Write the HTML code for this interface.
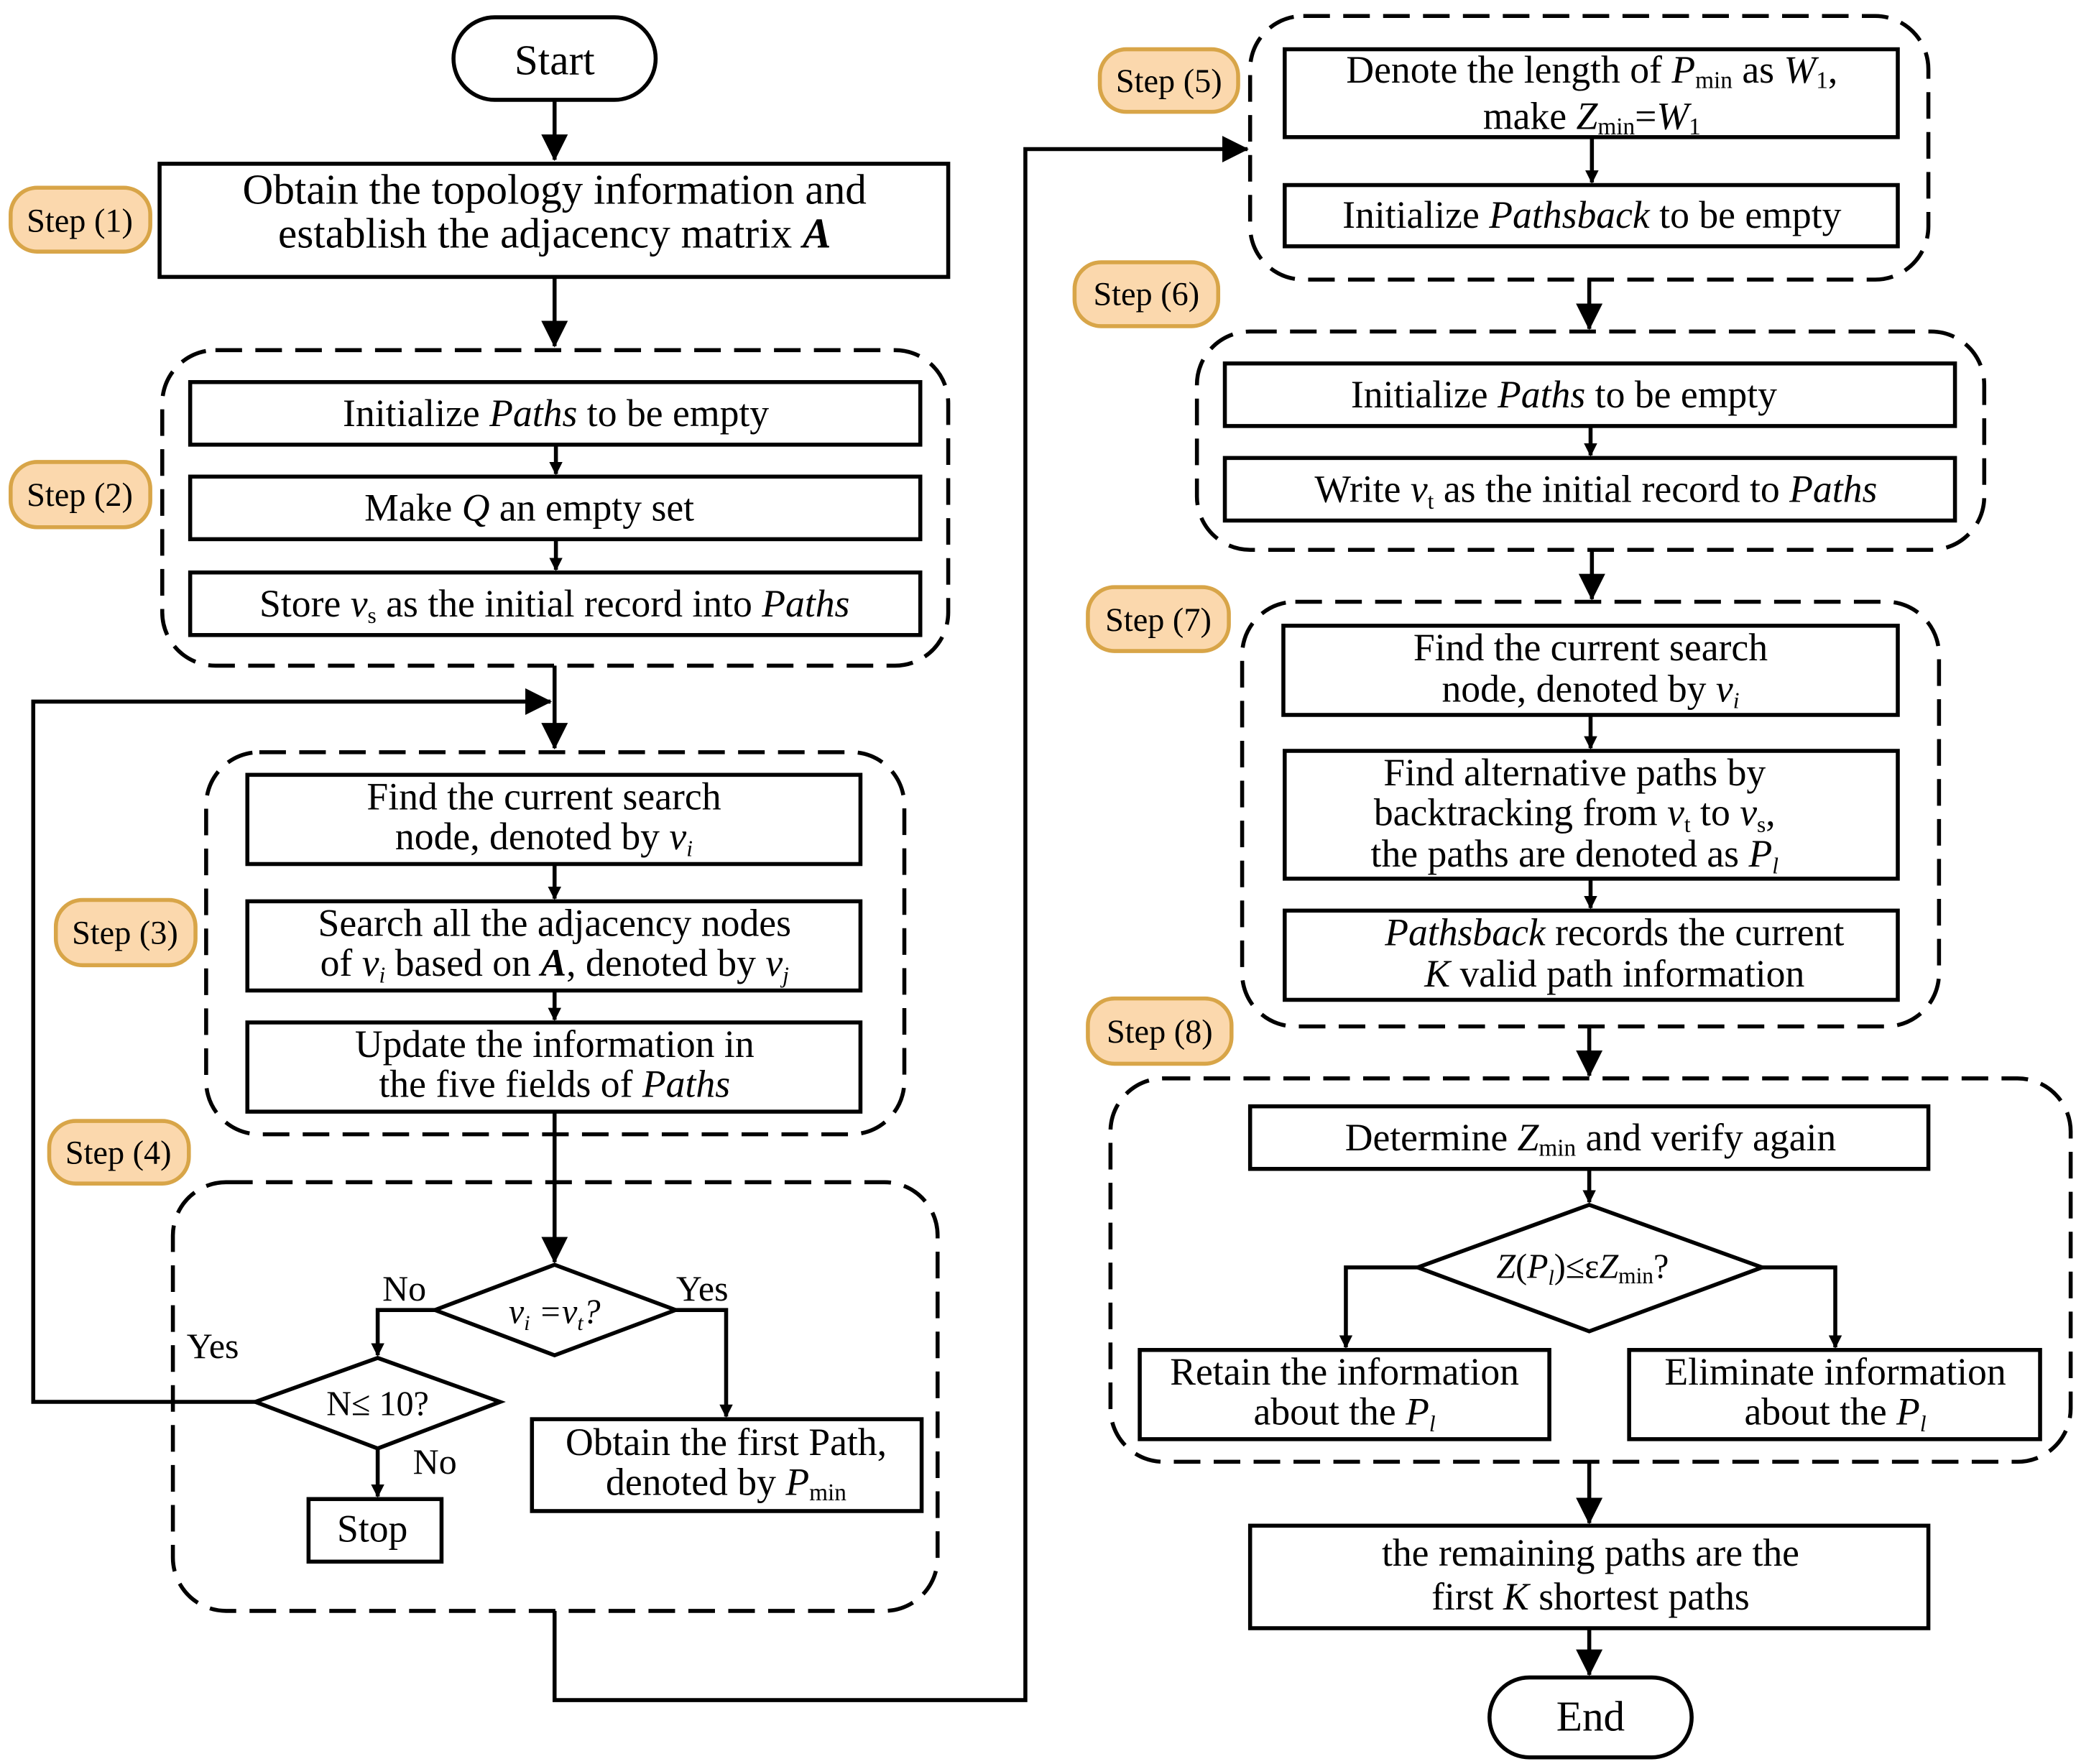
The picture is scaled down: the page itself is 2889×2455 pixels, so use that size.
<!DOCTYPE html>
<html><head><meta charset="utf-8"><style>
html,body{margin:0;padding:0;background:#fff}
svg{display:block}
text{font-family:"Liberation Serif",serif;fill:#000}
.i{font-style:italic}
</style></head><body>
<svg width="2889" height="2455" viewBox="0 0 1561 1325" preserveAspectRatio="none" xmlns="http://www.w3.org/2000/svg">
<defs>
<marker id="a" markerWidth="10" markerHeight="10" refX="9" refY="5" orient="auto" markerUnits="userSpaceOnUse" viewBox="0 0 10 10">
<path d="M0,0 L10,5 L0,10 z" fill="#000"/></marker>
<marker id="b" markerWidth="20" markerHeight="20" refX="19" refY="10" orient="auto" markerUnits="userSpaceOnUse" viewBox="0 0 20 20">
<path d="M0,0 L20,10 L0,20 z" fill="#000"/></marker>
</defs>
<g fill="none" stroke="#000" stroke-width="3">
<!-- dashed groups -->
<g stroke-dasharray="20 10">
<rect x="122" y="263" width="591" height="237" rx="40"/>
<rect x="155" y="565" width="525" height="287" rx="40"/>
<rect x="130" y="888" width="575" height="322" rx="40"/>
<rect x="940" y="12" width="510" height="198" rx="40"/>
<rect x="900" y="249" width="592" height="164" rx="40"/>
<rect x="934" y="452" width="524" height="319" rx="40"/>
<rect x="835" y="810" width="722" height="288" rx="40"/>
</g>
<!-- pills -->
<rect x="341" y="13" width="152" height="62" rx="31"/>
<rect x="1120" y="1260" width="152" height="60" rx="30"/>
<!-- boxes -->
<rect x="120" y="123" width="593" height="85"/>
<rect x="143" y="287" width="549" height="47"/>
<rect x="143" y="358" width="549" height="47"/>
<rect x="143" y="430" width="549" height="47"/>
<rect x="186" y="582" width="461" height="67"/>
<rect x="186" y="677" width="461" height="67"/>
<rect x="186" y="768" width="461" height="67"/>
<rect x="232" y="1126" width="100" height="47"/>
<rect x="400" y="1066" width="293" height="69"/>
<rect x="966" y="37" width="461" height="66"/>
<rect x="966" y="139" width="461" height="46"/>
<rect x="921" y="273" width="549" height="47"/>
<rect x="921" y="344" width="549" height="47"/>
<rect x="965" y="470" width="462" height="67"/>
<rect x="966" y="564" width="461" height="96"/>
<rect x="966" y="684" width="461" height="67"/>
<rect x="940" y="831" width="510" height="47"/>
<rect x="857" y="1014" width="308" height="67"/>
<rect x="1225" y="1014" width="309" height="67"/>
<rect x="940" y="1146" width="510" height="77"/>
<!-- diamonds -->
<path d="M327,984 L417,950 L508,984 L417,1018 Z"/>
<path d="M192,1053 L284,1020 L376,1053 L284,1088 Z"/>
<path d="M1066,952 L1195,905 L1325,952 L1195,1000 Z"/>
</g>
<!-- badges -->
<g fill="#fbd8ad" stroke="#d8a548" stroke-width="3">
<rect x="8" y="141" width="105" height="48" rx="20"/>
<rect x="8" y="347" width="105" height="49" rx="20"/>
<rect x="42" y="676" width="105" height="49" rx="20"/>
<rect x="37" y="842" width="105" height="47" rx="20"/>
<rect x="827" y="37" width="104" height="47" rx="20"/>
<rect x="808" y="197" width="108" height="48" rx="20"/>
<rect x="818" y="441" width="106" height="48" rx="20"/>
<rect x="818" y="750" width="108" height="49" rx="20"/>
</g>
<!-- connectors -->
<g fill="none" stroke="#000" stroke-width="3">
<path d="M417,75 V120" marker-end="url(#b)"/>
<path d="M417,208 V260" marker-end="url(#b)"/>
<path d="M418,334 V356" marker-end="url(#a)"/>
<path d="M418,405 V428" marker-end="url(#a)"/>
<path d="M417,500 V562" marker-end="url(#b)"/>
<path d="M192,1053 H25 V527 H414" marker-end="url(#b)"/>
<path d="M417,649 V675" marker-end="url(#a)"/>
<path d="M417,744 V766" marker-end="url(#a)"/>
<path d="M417,835 V948" marker-end="url(#b)"/>
<path d="M327,984 H284 V1018" marker-end="url(#a)"/>
<path d="M508,984 H546 V1064" marker-end="url(#a)"/>
<path d="M284,1088 V1124" marker-end="url(#a)"/>
<path d="M417,1210 V1277 H771 V112 H938" marker-end="url(#b)"/>
<path d="M1197,103 V137" marker-end="url(#a)"/>
<path d="M1195,210 V247" marker-end="url(#b)"/>
<path d="M1196,320 V342" marker-end="url(#a)"/>
<path d="M1197,413 V450" marker-end="url(#b)"/>
<path d="M1196,537 V562" marker-end="url(#a)"/>
<path d="M1196,660 V682" marker-end="url(#a)"/>
<path d="M1195,771 V808" marker-end="url(#b)"/>
<path d="M1195,878 V903" marker-end="url(#a)"/>
<path d="M1066,952 H1012 V1012" marker-end="url(#a)"/>
<path d="M1325,952 H1380 V1012" marker-end="url(#a)"/>
<path d="M1195,1098 V1144" marker-end="url(#b)"/>
<path d="M1195,1223 V1258" marker-end="url(#b)"/>
</g>
<!-- text -->
<g text-anchor="middle" font-size="29">
<text x="417" y="56" font-size="32">Start</text>
<text x="1196" y="1300" font-size="32">End</text>
<text x="417" y="153" font-size="32">Obtain the topology information and</text>
<text x="417" y="186" font-size="32">establish the adjacency matrix <tspan class="i" font-weight="bold">A</tspan></text>
<text x="418" y="320">Initialize <tspan class="i">Paths</tspan> to be empty</text>
<text x="398" y="391">Make <tspan class="i">Q</tspan> an empty set</text>
<text x="417" y="463">Store <tspan class="i">v</tspan><tspan font-size="17" dy="5">s</tspan><tspan dy="-5"> as the initial record into </tspan><tspan class="i">Paths</tspan></text>
<text x="409" y="608">Find  the current search</text>
<text x="409" y="638">node, denoted by <tspan class="i">v<tspan font-size="17" dy="5">i</tspan></tspan></text>
<text x="417" y="703">Search all the adjacency nodes</text>
<text x="417" y="733">of <tspan class="i">v<tspan font-size="17" dy="5">i</tspan></tspan><tspan dy="-5"> based on </tspan><tspan class="i" font-weight="bold">A</tspan>, denoted by <tspan class="i">v<tspan font-size="17" dy="5">j</tspan></tspan></text>
<text x="417" y="794">Update the information in</text>
<text x="417" y="824">the five fields of <tspan class="i">Paths</tspan></text>
<text x="417" y="994" font-size="26" class="i">v<tspan font-size="16" dy="5">i</tspan><tspan dy="-5"> =v</tspan><tspan font-size="16" dy="5">t</tspan><tspan dy="-5">?</tspan></text>
<text x="304" y="977" font-size="27">No</text>
<text x="528" y="977" font-size="27">Yes</text>
<text x="160" y="1020" font-size="27">Yes</text>
<text x="327" y="1107" font-size="27">No</text>
<text x="284" y="1063" font-size="26">N≤ 10?</text>
<text x="280" y="1158">Stop</text>
<text x="546" y="1093">Obtain the first Path,</text>
<text x="546" y="1123">denoted by <tspan class="i">P</tspan><tspan font-size="18" dy="4">min</tspan></text>
<text x="1197" y="62">Denote the length of <tspan class="i">P</tspan><tspan font-size="18" dy="4">min</tspan><tspan dy="-4"> as </tspan><tspan class="i">W</tspan><tspan font-size="18" dy="4">1</tspan><tspan dy="-4">,</tspan></text>
<text x="1197" y="97">make <tspan class="i">Z</tspan><tspan font-size="18" dy="4">min</tspan><tspan dy="-4">=</tspan><tspan class="i">W</tspan><tspan font-size="18" dy="4">1</tspan></text>
<text x="1197" y="171">Initialize <tspan class="i">Pathsback</tspan> to be empty</text>
<text x="1176" y="306">Initialize <tspan class="i">Paths</tspan> to be empty</text>
<text x="1200" y="377">Write <tspan class="i">v</tspan><tspan font-size="17" dy="5">t</tspan><tspan dy="-5"> as the initial record to </tspan><tspan class="i">Paths</tspan></text>
<text x="1196" y="496">Find the current search</text>
<text x="1196" y="527">node, denoted by <tspan class="i">v<tspan font-size="17" dy="5">i</tspan></tspan></text>
<text x="1184" y="590">Find alternative paths by</text>
<text x="1184" y="620">backtracking from <tspan class="i">v</tspan><tspan font-size="17" dy="5">t</tspan><tspan dy="-5"> to </tspan><tspan class="i">v</tspan><tspan font-size="17" dy="5">s</tspan><tspan dy="-5">,</tspan></text>
<text x="1184" y="651">the paths are denoted as <tspan class="i">P<tspan font-size="17" dy="5">l</tspan></tspan></text>
<text x="1214" y="710"><tspan class="i">Pathsback</tspan> records the current</text>
<text x="1214" y="741"><tspan class="i">K</tspan> valid path information</text>
<text x="1196" y="864">Determine <tspan class="i">Z</tspan><tspan font-size="18" dy="4">min</tspan><tspan dy="-4"> and verify again</tspan></text>
<text x="1190" y="960" font-size="26"><tspan class="i">Z</tspan>(<tspan class="i">P<tspan font-size="16" dy="5">l</tspan></tspan><tspan dy="-5">)≤ε</tspan><tspan class="i">Z</tspan><tspan font-size="17" dy="4">min</tspan><tspan dy="-4">?</tspan></text>
<text x="1011" y="1040">Retain the information</text>
<text x="1011" y="1070">about the <tspan class="i">P<tspan font-size="17" dy="5">l</tspan></tspan></text>
<text x="1380" y="1040">Eliminate information</text>
<text x="1380" y="1070">about the <tspan class="i">P<tspan font-size="17" dy="5">l</tspan></tspan></text>
<text x="1196" y="1176">the remaining paths are the</text>
<text x="1196" y="1209">first <tspan class="i">K</tspan> shortest paths</text>
</g>
<g text-anchor="middle" font-size="25">
<text x="60" y="174">Step (1)</text>
<text x="60" y="380">Step (2)</text>
<text x="94" y="709">Step (3)</text>
<text x="89" y="874">Step (4)</text>
<text x="879" y="69">Step (5)</text>
<text x="862" y="229">Step (6)</text>
<text x="871" y="474">Step (7)</text>
<text x="872" y="783">Step (8)</text>
</g>
</svg>
</body></html>
